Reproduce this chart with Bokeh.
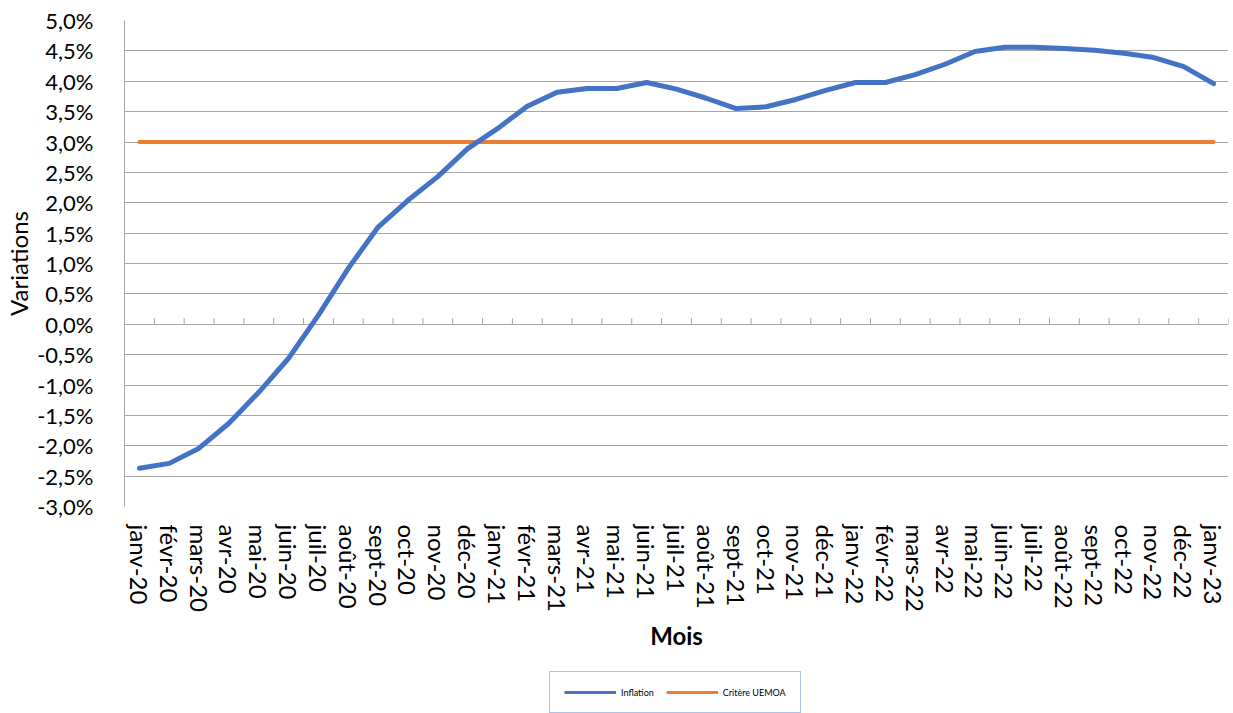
import math
from bokeh.plotting import figure
from bokeh.layouts import column
from bokeh.models import (FactorRange, Range1d, FixedTicker, CustomJSTickFormatter,
                          ColumnDataSource, Legend, LegendItem)
from bokeh.embed import file_html
from bokeh.resources import INLINE

months = ["janv-20", "févr-20", "mars-20", "avr-20", "mai-20", "juin-20", "juil-20",
          "août-20", "sept-20", "oct-20", "nov-20", "déc-20",
          "janv-21", "févr-21", "mars-21", "avr-21", "mai-21", "juin-21", "juil-21",
          "août-21", "sept-21", "oct-21", "nov-21", "déc-21",
          "janv-22", "févr-22", "mars-22", "avr-22", "mai-22", "juin-22", "juil-22",
          "août-22", "sept-22", "oct-22", "nov-22", "déc-22",
          "janv-23"]

inflation = [-2.37, -2.29, -2.04, -1.63, -1.12, -0.56, 0.15,
             0.92, 1.60, 2.04, 2.43, 2.89,
             3.22, 3.59, 3.82, 3.88, 3.88, 3.98, 3.87,
             3.72, 3.55, 3.58, 3.70, 3.85,
             3.98, 3.98, 4.11, 4.28, 4.49, 4.56, 4.56,
             4.54, 4.51, 4.46, 4.39, 4.24,
             3.96]

critere = [3.0] * len(months)

y_ticks = [-3.0, -2.5, -2.0, -1.5, -1.0, -0.5, 0.0, 0.5, 1.0, 1.5, 2.0,
           2.5, 3.0, 3.5, 4.0, 4.5, 5.0]

FONT = "Lato"
GRID = "#a6a6a6"
BLUE = "#4472C4"
ORANGE = "#ED7D31"

p = figure(x_range=FactorRange(*months, range_padding=0),
           y_range=Range1d(-3.0, 5.0),
           width=1233, height=660, output_backend="svg", toolbar_location=None,
           min_border_left=124, min_border_right=5, min_border_top=20,
           min_border_bottom=154)
p.outline_line_color = None
p.background_fill_color = "white"

# x axis (labels at bottom)
xa = p.xaxis[0]
xa.axis_line_color = None
xa.major_tick_line_color = None
xa.minor_tick_line_color = None
xa.major_label_orientation = -math.pi / 2
xa.major_label_text_font = FONT
xa.major_label_text_font_size = "24px"
xa.major_label_text_color = "#000000"
xa.major_label_standoff = 12
xa.axis_label = "Mois"
xa.axis_label_text_font = FONT
xa.axis_label_text_font_style = "bold"
xa.axis_label_text_font_size = "24px"
xa.axis_label_text_color = "#000000"
xa.axis_label_standoff = 6
p.xgrid.grid_line_color = None

# y axis
ya = p.yaxis[0]
ya.ticker = FixedTicker(ticks=y_ticks)
ya.formatter = CustomJSTickFormatter(code="return tick.toFixed(1).replace('.', ',') + '%';")
ya.axis_line_color = GRID
ya.major_tick_line_color = None
ya.minor_tick_line_color = None
ya.major_label_text_font = FONT
ya.major_label_text_font_size = "22px"
ya.major_label_text_color = "#000000"
ya.major_label_standoff = 25
ya.axis_label = "Variations"
ya.axis_label_text_font = FONT
ya.axis_label_text_font_style = "normal"
ya.axis_label_text_font_size = "24px"
ya.axis_label_text_color = "#000000"
ya.axis_label_standoff = 1
p.ygrid.ticker = FixedTicker(ticks=y_ticks)
p.ygrid.grid_line_color = GRID
p.ygrid.grid_line_width = 1

# tick marks on the zero line, between categories
tick_x = [(m, 0.5) for m in months]
tick_src = ColumnDataSource(dict(x=tick_x, y0=[0.0] * len(tick_x), y1=[0.1] * len(tick_x)))
p.segment(x0="x", y0="y0", x1="x", y1="y1", source=tick_src, line_color=GRID, line_width=1)

src = ColumnDataSource(dict(month=months, inflation=inflation, critere=critere))
p.line("month", "critere", source=src, line_color=ORANGE, line_width=4, line_cap="round")
p.line("month", "inflation", source=src, line_color=BLUE, line_width=5,
       line_cap="round", line_join="round")

# legend strip below the chart (series drawn out of view, only the legend shows)
q = figure(width=1233, height=53, output_backend="svg", toolbar_location=None,
           x_range=FactorRange(*months, range_padding=0), y_range=Range1d(100, 101),
           min_border_left=0, min_border_right=0, min_border_top=0, min_border_bottom=0,
           x_axis_type=None, y_axis_type=None)
q.outline_line_color = None
q.xgrid.grid_line_color = None
q.ygrid.grid_line_color = None
l_inf = q.line("month", "inflation", source=src, line_color=BLUE, line_width=3)
l_crit = q.line("month", "critere", source=src, line_color=ORANGE, line_width=3)
legend = Legend(items=[LegendItem(label="Inflation", renderers=[l_inf]),
                       LegendItem(label="Critère UEMOA", renderers=[l_crit])],
                orientation="horizontal", location=(425, 0),
                label_text_font=FONT, label_text_font_size="9px",
                label_text_color="#000000",
                glyph_width=52, glyph_height=12, label_standoff=5, spacing=12,
                padding=14, margin=0,
                border_line_color="#5B86C9", border_line_width=1.5,
                background_fill_alpha=1.0)
q.add_layout(legend, "center")

layout = column(p, q, spacing=0)
open("out.html", "w").write(file_html(layout, INLINE))
